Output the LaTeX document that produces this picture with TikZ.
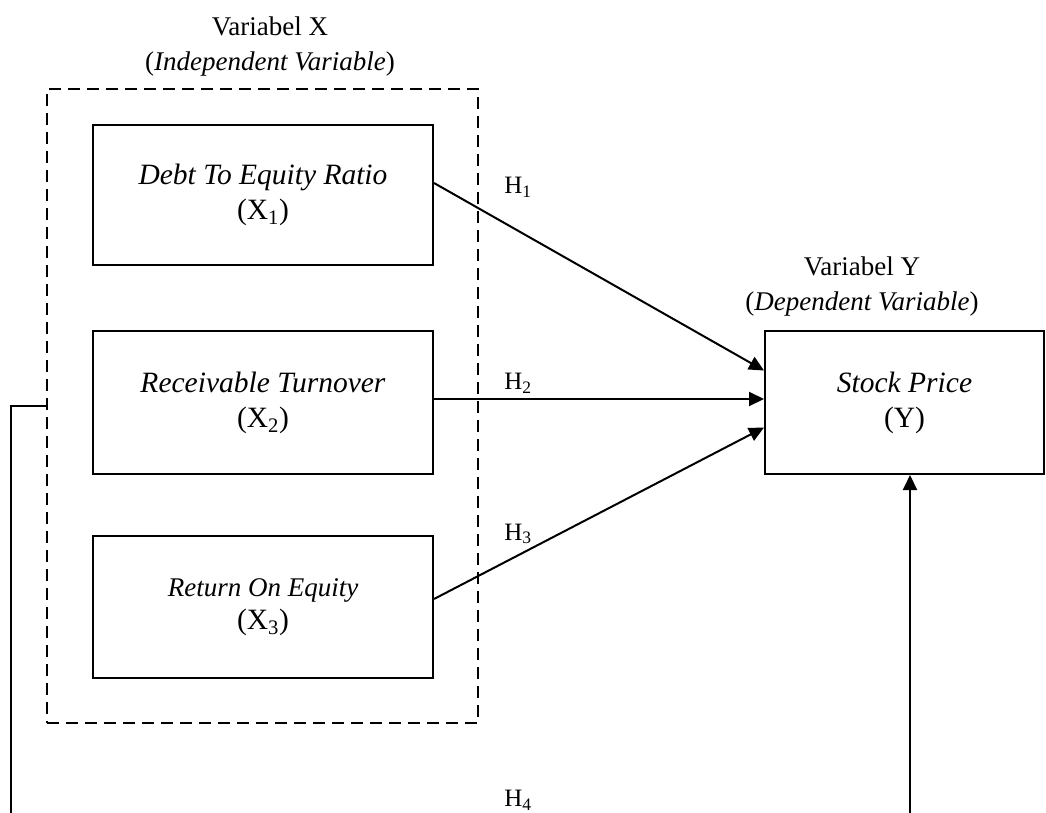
\documentclass[tikz,border=0pt]{standalone}
\usepackage{fontspec}
\setmainfont{Liberation Serif}
\usetikzlibrary{arrows.meta}
\newcommand{\bigtxt}{\fontsize{29.5}{35}\selectfont}
\newcommand{\smalltxt}{\fontsize{27}{33}\selectfont}
\newcommand{\lbltxt}{\fontsize{27}{35}\selectfont}
\newcommand{\htxt}{\fontsize{25}{30}\selectfont}
\begin{document}
\begin{tikzpicture}[x=1pt,y=-1pt,
  varbox/.style={draw, line width=2pt, align=center, inner sep=0pt, font=\bigtxt},
  grpbox/.style={draw, dashed, dash pattern=on 12pt off 7pt, line width=1.8pt, inner sep=0pt},
  lbl/.style={align=center, inner sep=0pt, font=\lbltxt},
  hlbl/.style={inner sep=0pt, font=\htxt},
  arr/.style={line width=2pt, -{Triangle[length=15pt,width=14pt]}},
  ln/.style={line width=2pt}]
\useasboundingbox (0,0) rectangle (1046,813);
\node[grpbox, minimum width=431pt, minimum height=634pt] (grp) at (262.5,406) {};
\node[varbox, minimum width=340pt, minimum height=140pt] (b1) at (263,195)
  {\textit{Debt To Equity Ratio}\\(X\textsubscript{1})};
\node[varbox, minimum width=340pt, minimum height=143pt] (b2) at (263,402.5)
  {\textit{Receivable Turnover}\\(X\textsubscript{2})};
\node[varbox, minimum width=340pt, minimum height=142pt] (b3) at (263,607)
  {{\smalltxt\itshape Return On Equity}\\[-2pt](X\textsubscript{3})};
\node[varbox, minimum width=279pt, minimum height=143pt] (by) at (904.5,402.5)
  {\textit{Stock Price}\\(Y)};
\node[lbl] (vx) at (270,47) {Variabel X\\(\textit{Independent Variable})};
\node[lbl] (vy) at (862,287) {Variabel Y\\(\textit{Dependent Variable})};
\node[hlbl] (h1) at (518,187) {H\textsubscript{1}};
\node[hlbl] (h2) at (518,383) {H\textsubscript{2}};
\node[hlbl] (h3) at (518,534) {H\textsubscript{3}};
\node[hlbl] (h4) at (518,800) {H\textsubscript{4}};
\coordinate (L) at (11,813);
\coordinate (R) at (910,813);
\draw[arr] ([yshift=12pt]b1.east) -- ([yshift=32pt]by.west);
\draw[arr] ([yshift=3.5pt]b2.east) -- ([yshift=3.5pt]by.west);
\draw[arr] ([yshift=8pt]b3.east) -- ([yshift=-25pt]by.west);
\draw[ln] (grp.west) -| (L);
\draw[arr] (R) -- (R |- by.south);
\end{tikzpicture}
\end{document}
